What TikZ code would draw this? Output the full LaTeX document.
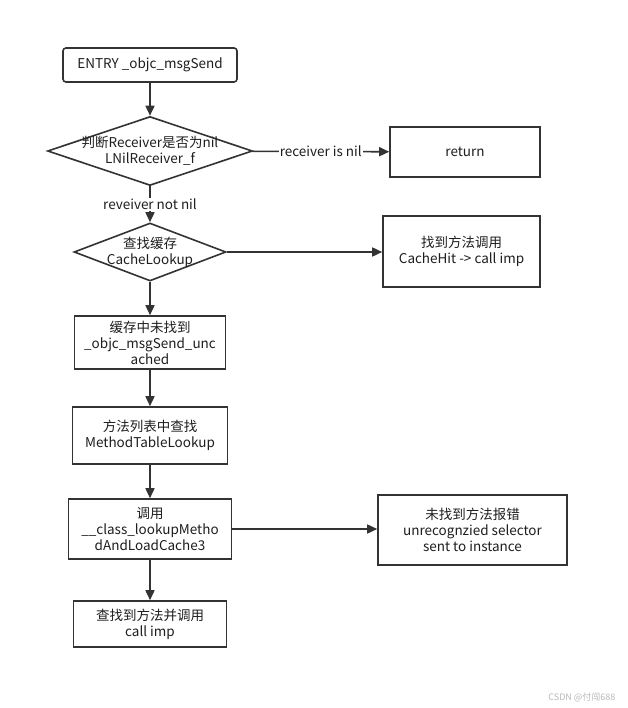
\documentclass[tikz,border=0pt]{standalone}
\usepackage{fontspec}
\setmainfont{Noto Sans CJK SC}
\usetikzlibrary{arrows.meta,shapes.geometric}

\definecolor{linie}{RGB}{51,51,51}
\definecolor{schrift}{RGB}{30,30,30}

\begin{document}
\begin{tikzpicture}[x=1pt, y=-1pt,
    box/.style={draw=linie, line width=1.6pt, align=center, text=schrift, inner sep=0pt},
    dec/.style={draw=linie, line width=1.6pt, shape=diamond, inner sep=0pt},
    txt/.style={align=center, text=schrift, font=\fontsize{13.5}{16}\selectfont},
    pfeil/.style={draw=linie, line width=1.6pt, -{Triangle[length=10pt,width=9pt]}},
    marke/.style={fill=white, text=schrift, inner sep=1pt, font=\fontsize{13.5}{16}\selectfont},
    font=\fontsize{13.5}{16}\selectfont]
            \useasboundingbox (0,0) rectangle (627,708);
            \fill[white] (0,0) rectangle (627,708);

            \node[box, rounded corners=3pt, minimum width=174pt, minimum height=34pt] (entry) at (150,65) {ENTRY \_objc\_msgSend};
            \node[dec, minimum width=205pt, minimum height=69pt,
                  label={[txt]center:判断Receiver是否为nil\\LNilReceiver\_f}] (nil) at (150,151) {};
            \node[box, minimum width=150pt, minimum height=50pt] (ret) at (465,152) {return};
            \node[dec, minimum width=152pt, minimum height=58pt,
                  label={[txt]center:查找缓存\\CacheLookup}] (cache) at (150,252) {};
            \node[box, minimum width=157pt, minimum height=71pt] (hit) at (461.5,251.5) {找到方法调用\\CacheHit -> call imp};
            \node[box, minimum width=151pt, minimum height=53pt] (uncached) at (150,342.5) {缓存中未找到\\\_objc\_msgSend\_unc\\ached};
            \node[box, minimum width=155pt, minimum height=57pt] (table) at (150,435.5) {方法列表中查找\\MethodTableLookup};
            \node[box, minimum width=163pt, minimum height=60pt] (lookup) at (150,529) {调用\\\_\_class\_lookupMetho\\dAndLoadCache3};
            \node[box, minimum width=189pt, minimum height=70pt] (fail) at (472.5,530) {未找到方法报错\\unrecognzied selector\\sent to instance};
            \node[box, minimum width=153pt, minimum height=46pt] (imp) at (150,624) {查找到方法并调用\\call imp};

            \draw[pfeil] (entry) -- (nil);
            \draw[pfeil] (nil) -- node[marke] {receiver is nil} (ret);
            \draw[pfeil] (nil) -- node[marke] {reveiver not nil} (cache);
            \draw[pfeil] (cache.east) -- (hit.west |- cache.east);
            \draw[pfeil] (cache.south) -- (uncached.north);
            \draw[pfeil] (uncached.south) -- (table.north);
            \draw[pfeil] (table.south) -- (lookup.north);
            \draw[pfeil] (lookup.east) -- (fail.west |- lookup.east);
            \draw[pfeil] (lookup.south) -- (imp.north);

            % watermark
            \node[text=gray!55, font=\fontsize{9}{10}\selectfont, anchor=east] (csdn) at (619,697) {CSDN @付闯688};
        \end{tikzpicture}
\end{document}
